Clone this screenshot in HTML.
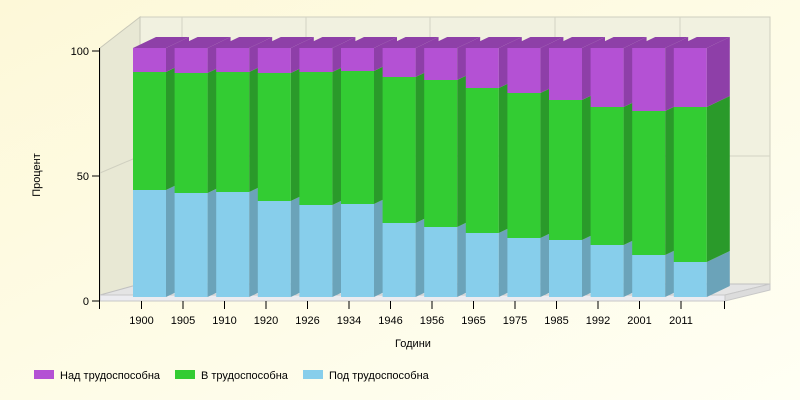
<!DOCTYPE html><html><head><style>body{margin:0;background:#fffde8}svg{display:block}</style></head><body>
<svg width="800" height="400" xmlns="http://www.w3.org/2000/svg" font-family="Liberation Sans, sans-serif">
<defs><linearGradient id="bg" x1="0" y1="0" x2="1" y2="1"><stop offset="0" stop-color="#fdf8d8"/><stop offset="1" stop-color="#fffff4"/></linearGradient>
<g id="tp"><polygon points="0,48 23,37 56,37 33,48" fill="#8e40a8"/></g></defs>
<rect width="800" height="400" fill="url(#bg)"/>
<rect x="140" y="17" width="630" height="270" fill="#f1f1e0" stroke="#cfcfc0"/>
<g stroke="#d4d4c4">
<line x1="140" y1="156" x2="770" y2="156"/>
<line x1="182" y1="17" x2="182" y2="287"/><line x1="306" y1="17" x2="306" y2="287"/><line x1="430" y1="17" x2="430" y2="287"/><line x1="555" y1="17" x2="555" y2="287"/><line x1="680" y1="17" x2="680" y2="287"/>
</g>
<polygon points="100,48 140,17 140,287 100,301" fill="#e8e8d4" stroke="#c8c8b8"/>
<line x1="100" y1="173" x2="140" y2="156" stroke="#d0d0c0"/>
<polygon points="100,295 140,284 770,284 725,295" fill="#e4e4e4" stroke="#c0c0c0"/>
<polygon points="100,295 725,295 725,301 100,301" fill="#ececf0" stroke="#c8c8c8"/>
<polygon points="725,295 770,284 770,290 725,301" fill="#dcdcdc" stroke="#c8c8c8"/>

<g transform="translate(133,0)"><rect y="190" width="33" height="107" fill="#87ceeb"/><polygon points="33,190 56,179 56,286 33,297" fill="#6ba3b9"/><rect y="72" width="33" height="118" fill="#33cc33"/><polygon points="33,72 56,61 56,179 33,190" fill="#2a9a2a"/><rect y="48" width="33" height="24" fill="#b451d4"/><polygon points="33,48 56,37 56,61 33,72" fill="#8e3fa8"/><use href="#tp"/></g>
<g transform="translate(174.6,0)"><rect y="193" width="33" height="104" fill="#87ceeb"/><polygon points="33,193 56,182 56,286 33,297" fill="#6ba3b9"/><rect y="73" width="33" height="120" fill="#33cc33"/><polygon points="33,73 56,62 56,182 33,193" fill="#2a9a2a"/><rect y="48" width="33" height="25" fill="#b451d4"/><polygon points="33,48 56,37 56,62 33,73" fill="#8e3fa8"/><use href="#tp"/></g>
<g transform="translate(216.2,0)"><rect y="192" width="33" height="105" fill="#87ceeb"/><polygon points="33,192 56,181 56,286 33,297" fill="#6ba3b9"/><rect y="72" width="33" height="120" fill="#33cc33"/><polygon points="33,72 56,61 56,181 33,192" fill="#2a9a2a"/><rect y="48" width="33" height="24" fill="#b451d4"/><polygon points="33,48 56,37 56,61 33,72" fill="#8e3fa8"/><use href="#tp"/></g>
<g transform="translate(257.8,0)"><rect y="201" width="33" height="96" fill="#87ceeb"/><polygon points="33,201 56,190 56,286 33,297" fill="#6ba3b9"/><rect y="73" width="33" height="128" fill="#33cc33"/><polygon points="33,73 56,62 56,190 33,201" fill="#2a9a2a"/><rect y="48" width="33" height="25" fill="#b451d4"/><polygon points="33,48 56,37 56,62 33,73" fill="#8e3fa8"/><use href="#tp"/></g>
<g transform="translate(299.4,0)"><rect y="205" width="33" height="92" fill="#87ceeb"/><polygon points="33,205 56,194 56,286 33,297" fill="#6ba3b9"/><rect y="72" width="33" height="133" fill="#33cc33"/><polygon points="33,72 56,61 56,194 33,205" fill="#2a9a2a"/><rect y="48" width="33" height="24" fill="#b451d4"/><polygon points="33,48 56,37 56,61 33,72" fill="#8e3fa8"/><use href="#tp"/></g>
<g transform="translate(341,0)"><rect y="204" width="33" height="93" fill="#87ceeb"/><polygon points="33,204 56,193 56,286 33,297" fill="#6ba3b9"/><rect y="71" width="33" height="133" fill="#33cc33"/><polygon points="33,71 56,60 56,193 33,204" fill="#2a9a2a"/><rect y="48" width="33" height="23" fill="#b451d4"/><polygon points="33,48 56,37 56,60 33,71" fill="#8e3fa8"/><use href="#tp"/></g>
<g transform="translate(382.6,0)"><rect y="223" width="33" height="74" fill="#87ceeb"/><polygon points="33,223 56,212 56,286 33,297" fill="#6ba3b9"/><rect y="77" width="33" height="146" fill="#33cc33"/><polygon points="33,77 56,66 56,212 33,223" fill="#2a9a2a"/><rect y="48" width="33" height="29" fill="#b451d4"/><polygon points="33,48 56,37 56,66 33,77" fill="#8e3fa8"/><use href="#tp"/></g>
<g transform="translate(424.2,0)"><rect y="227" width="33" height="70" fill="#87ceeb"/><polygon points="33,227 56,216 56,286 33,297" fill="#6ba3b9"/><rect y="80" width="33" height="147" fill="#33cc33"/><polygon points="33,80 56,69 56,216 33,227" fill="#2a9a2a"/><rect y="48" width="33" height="32" fill="#b451d4"/><polygon points="33,48 56,37 56,69 33,80" fill="#8e3fa8"/><use href="#tp"/></g>
<g transform="translate(465.8,0)"><rect y="233" width="33" height="64" fill="#87ceeb"/><polygon points="33,233 56,222 56,286 33,297" fill="#6ba3b9"/><rect y="88" width="33" height="145" fill="#33cc33"/><polygon points="33,88 56,77 56,222 33,233" fill="#2a9a2a"/><rect y="48" width="33" height="40" fill="#b451d4"/><polygon points="33,48 56,37 56,77 33,88" fill="#8e3fa8"/><use href="#tp"/></g>
<g transform="translate(507.4,0)"><rect y="238" width="33" height="59" fill="#87ceeb"/><polygon points="33,238 56,227 56,286 33,297" fill="#6ba3b9"/><rect y="93" width="33" height="145" fill="#33cc33"/><polygon points="33,93 56,82 56,227 33,238" fill="#2a9a2a"/><rect y="48" width="33" height="45" fill="#b451d4"/><polygon points="33,48 56,37 56,82 33,93" fill="#8e3fa8"/><use href="#tp"/></g>
<g transform="translate(549,0)"><rect y="240" width="33" height="57" fill="#87ceeb"/><polygon points="33,240 56,229 56,286 33,297" fill="#6ba3b9"/><rect y="100" width="33" height="140" fill="#33cc33"/><polygon points="33,100 56,89 56,229 33,240" fill="#2a9a2a"/><rect y="48" width="33" height="52" fill="#b451d4"/><polygon points="33,48 56,37 56,89 33,100" fill="#8e3fa8"/><use href="#tp"/></g>
<g transform="translate(590.6,0)"><rect y="245" width="33" height="52" fill="#87ceeb"/><polygon points="33,245 56,234 56,286 33,297" fill="#6ba3b9"/><rect y="107" width="33" height="138" fill="#33cc33"/><polygon points="33,107 56,96 56,234 33,245" fill="#2a9a2a"/><rect y="48" width="33" height="59" fill="#b451d4"/><polygon points="33,48 56,37 56,96 33,107" fill="#8e3fa8"/><use href="#tp"/></g>
<g transform="translate(632.2,0)"><rect y="255" width="33" height="42" fill="#87ceeb"/><polygon points="33,255 56,244 56,286 33,297" fill="#6ba3b9"/><rect y="111" width="33" height="144" fill="#33cc33"/><polygon points="33,111 56,100 56,244 33,255" fill="#2a9a2a"/><rect y="48" width="33" height="63" fill="#b451d4"/><polygon points="33,48 56,37 56,100 33,111" fill="#8e3fa8"/><use href="#tp"/></g>
<g transform="translate(673.8,0)"><rect y="262" width="33" height="35" fill="#87ceeb"/><polygon points="33,262 56,251 56,286 33,297" fill="#6ba3b9"/><rect y="107" width="33" height="155" fill="#33cc33"/><polygon points="33,107 56,96 56,251 33,262" fill="#2a9a2a"/><rect y="48" width="33" height="59" fill="#b451d4"/><polygon points="33,48 56,37 56,96 33,107" fill="#8e3fa8"/><use href="#tp"/></g>

<g stroke="#000"><line x1="99.5" y1="48" x2="99.5" y2="309"/>
<line x1="92" y1="51" x2="100" y2="51"/><line x1="92" y1="176" x2="100" y2="176"/><line x1="92" y1="301" x2="100" y2="301"/>
<line x1="141.5" y1="301" x2="141.5" y2="309"/><line x1="183" y1="301" x2="183" y2="309"/><line x1="224.5" y1="301" x2="224.5" y2="309"/><line x1="266" y1="301" x2="266" y2="309"/><line x1="307.5" y1="301" x2="307.5" y2="309"/><line x1="349" y1="301" x2="349" y2="309"/><line x1="390.5" y1="301" x2="390.5" y2="309"/><line x1="432" y1="301" x2="432" y2="309"/><line x1="473.5" y1="301" x2="473.5" y2="309"/><line x1="515" y1="301" x2="515" y2="309"/><line x1="556.5" y1="301" x2="556.5" y2="309"/><line x1="598" y1="301" x2="598" y2="309"/><line x1="639.5" y1="301" x2="639.5" y2="309"/><line x1="681" y1="301" x2="681" y2="309"/><line x1="724.5" y1="301" x2="724.5" y2="309"/>
</g>
<g font-size="11" text-anchor="end"><text x="89" y="55">100</text><text x="89" y="180">50</text><text x="89" y="305">0</text></g>
<g font-size="11" text-anchor="middle">
<text x="141.5" y="324">1900</text><text x="183" y="324">1905</text><text x="224.5" y="324">1910</text><text x="266" y="324">1920</text><text x="307.5" y="324">1926</text><text x="349" y="324">1934</text><text x="390.5" y="324">1946</text><text x="432" y="324">1956</text><text x="473.5" y="324">1965</text><text x="515" y="324">1975</text><text x="556.5" y="324">1985</text><text x="598" y="324">1992</text><text x="639.5" y="324">2001</text><text x="681" y="324">2011</text>
</g>
<text x="40" y="175" font-size="11" transform="rotate(-90 40 175)" text-anchor="middle">Процент</text>
<text x="413" y="347" font-size="11" text-anchor="middle">Години</text>
<g font-size="11">
<rect x="34" y="370" width="20" height="9" fill="#b451d4"/><text x="60" y="379">Над трудоспособна</text>
<rect x="175" y="370" width="20" height="9" fill="#33cc33"/><text x="201" y="379">В трудоспособна</text>
<rect x="303" y="370" width="20" height="9" fill="#87ceeb"/><text x="329" y="379">Под трудоспособна</text>
</g>
</svg></body></html>
